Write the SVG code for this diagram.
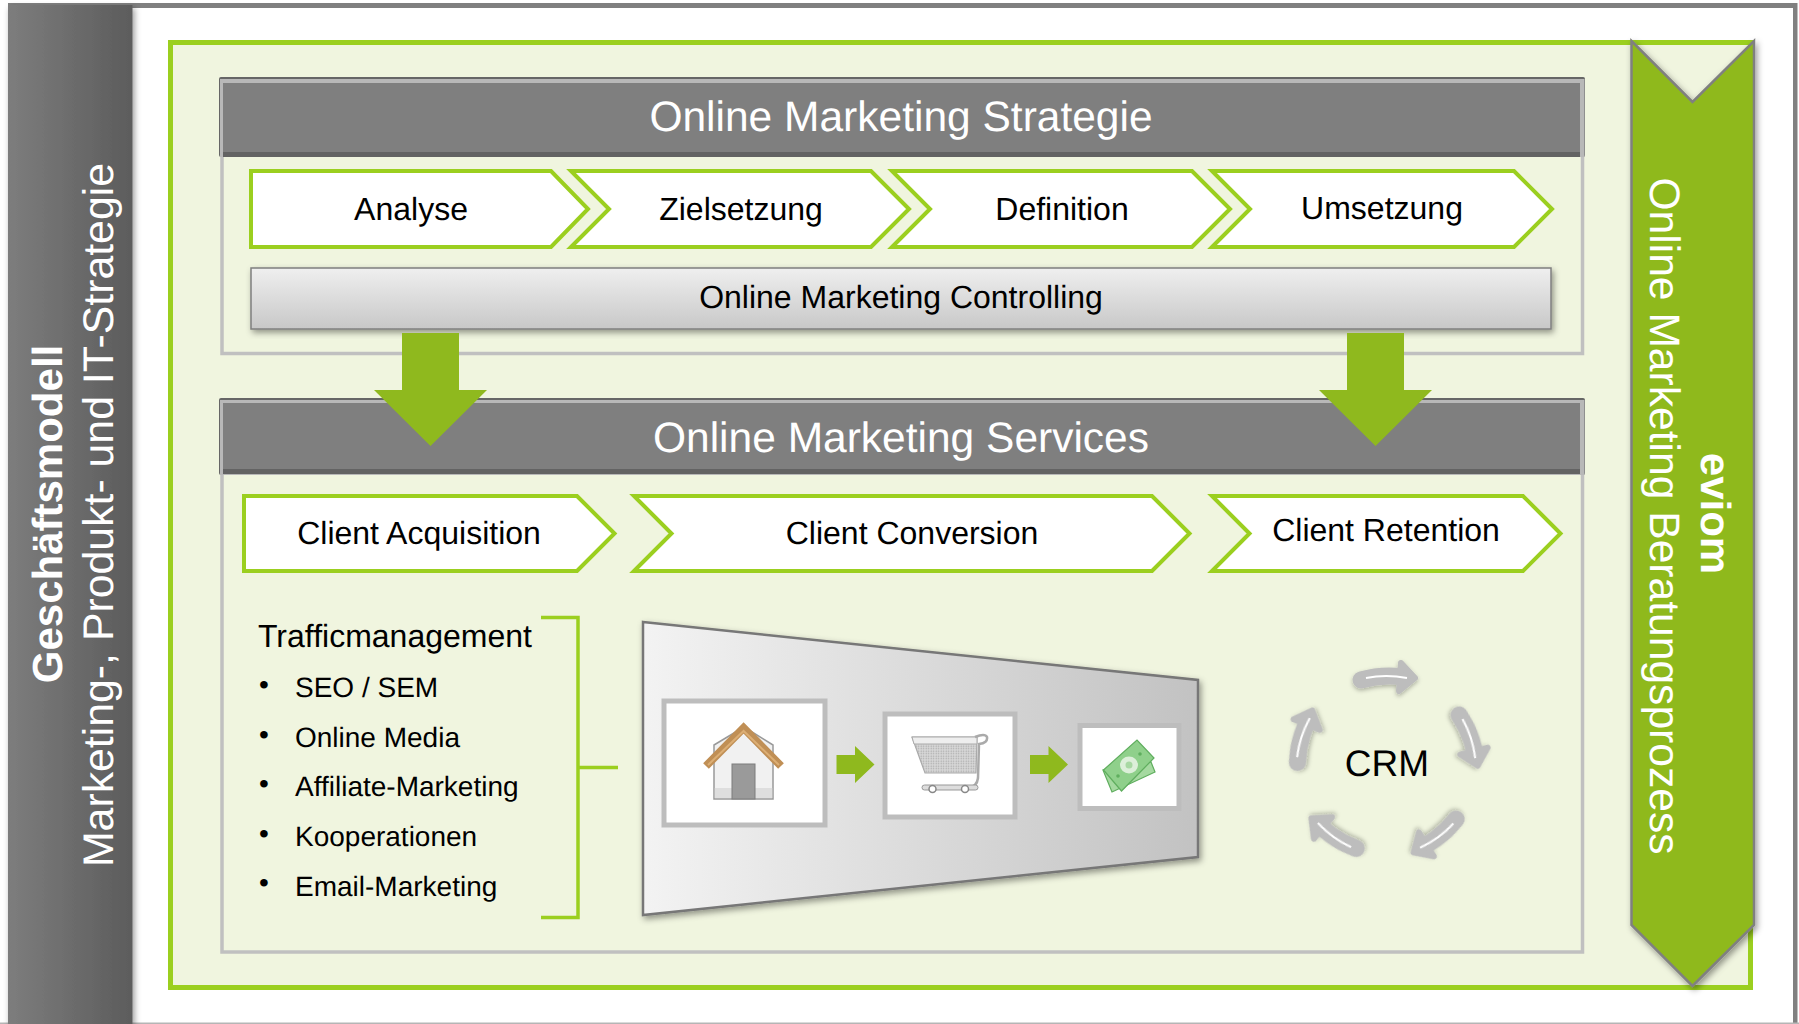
<svg xmlns="http://www.w3.org/2000/svg" xmlns:xlink="http://www.w3.org/1999/xlink" width="1799" height="1024" viewBox="0 0 1799 1024">
<defs>
<linearGradient id="gSide" x1="0" x2="1" y1="0" y2="0"><stop offset="0" stop-color="#7d7d7d"/><stop offset="1" stop-color="#5c5c5c"/></linearGradient>
<linearGradient id="gFun" x1="0" x2="1" y1="0" y2="0"><stop offset="0" stop-color="#f3f3f3"/><stop offset="1" stop-color="#c2c2c2"/></linearGradient>
<linearGradient id="gBar" x1="0" x2="0" y1="0" y2="1"><stop offset="0" stop-color="#efefef"/><stop offset="1" stop-color="#c8c8c8"/></linearGradient>
<pattern id="mesh" width="2.500" height="2.500" patternUnits="userSpaceOnUse"><rect width="2.500" height="2.500" fill="#d8d8d8"/><circle cx="1.200" cy="1.200" r=".7" fill="#a8a8a8"/></pattern>
<filter id="sh" x="-10%" y="-10%" width="125%" height="125%"><feDropShadow dx="2" dy="3" stdDeviation="3" flood-color="#000" flood-opacity=".4"/></filter>
<filter id="shA" x="-30%" y="-30%" width="170%" height="170%"><feDropShadow dx="0" dy="2" stdDeviation="2" flood-color="#000" flood-opacity=".28"/></filter>
<polygon id="bigArrow" points="-28.500,0 28.500,0 28.500,57 56.500,57 0,113 -56.500,57 -28.500,57"/>
<polygon id="smallArrow" points="0,9 18.500,9 18.500,0 38,18.500 18.500,37 18.500,28 0,28"/>
<g id="crmArrow" filter="url(#shA)">
<path d="M-25,-85 Q-4,-91 17,-88" fill="none" stroke="#bdbdbd" stroke-width="17" stroke-linecap="round"/>
<polygon points="15,-102 29,-87 13,-74" fill="#bdbdbd" stroke="#bdbdbd" stroke-width="6" stroke-linejoin="round"/>
<path d="M-20,-87 Q0,-91 21,-87" fill="none" stroke="#fff" stroke-width="1.800"/>
</g>
</defs>
<style>
text{font-family:"Liberation Sans",Arial,sans-serif;fill:#000;text-rendering:geometricPrecision}
.c{text-anchor:middle}
.w{fill:#fff}
.head{font-size:42.500px;fill:#fff;text-anchor:middle}
.lab{font-size:32px;text-anchor:middle}
.li{font-size:28px}
.chev{fill:#fff;stroke:#9bcf1f;stroke-width:4;stroke-linejoin:miter}
.fr{fill:#fff;stroke:#bdbdbd;stroke-width:5}
.grn{fill:#8fb91e}
.panel{fill:none;stroke:#c0c0c0;stroke-width:3.500}
</style>
<rect width="1799" height="1024" fill="#fff"/>
<g id="frame">
<rect x="8" y="3" width="1789" height="5" fill="#808080"/>
<rect x="1793" y="3" width="4.500" height="1021" fill="#808080"/>
<rect x="0" y="1022.500" width="1799" height="1.500" fill="#b5b5b5"/>
<rect x="8" y="5" width="124.500" height="1019" fill="url(#gSide)" filter="url(#sh)"/>
</g>
<g id="sidebar">
<text transform="translate(62,514) rotate(-90)" class="c w" font-size="42" font-weight="700">Geschäftsmodell</text>
<text transform="translate(113,515) rotate(-90)" class="c w" font-size="42.800">Marketing-, Produkt- und IT-Strategie</text>
</g>
<g id="green-frame"><rect x="170.500" y="42.500" width="1580" height="945" fill="#f0f5df" stroke="#9bcf1f" stroke-width="5"/></g>
<g id="strategie">
<rect x="222" y="79" width="1360.500" height="274.500" class="panel"/>
<rect x="219" y="77" width="1366" height="80" rx="2" fill="#666"/>
<rect x="220" y="79" width="1364.500" height="78" fill="#b8b8b8"/>
<rect x="223" y="83" width="1357" height="69" fill="#7f7f7f"/>
<rect x="223" y="152" width="1357" height="5" fill="#636363"/>
<text x="901" y="131" class="head">Online Marketing Strategie</text>
</g>
<g id="analyse"><polygon class="chev" points="251,171 551,171 588,209 551,247 251,247"/><text x="411" y="220" class="lab">Analyse</text></g>
<g id="zielsetzung"><polygon class="chev" points="571,171 871,171 909,209 871,247 571,247 609,209"/><text x="741" y="220" class="lab">Zielsetzung</text></g>
<g id="definition"><polygon class="chev" points="892,171 1192,171 1230,209 1192,247 892,247 930,209"/><text x="1062" y="220" class="lab">Definition</text></g>
<g id="umsetzung"><polygon class="chev" points="1212,171 1514,171 1552,209 1514,247 1212,247 1250,209"/><text x="1382" y="219" class="lab">Umsetzung</text></g>
<g id="controlling"><rect x="251" y="268" width="1300" height="61" fill="url(#gBar)" stroke="#7f7f7f" stroke-width="1.500" filter="url(#sh)"/><text x="901" y="308" class="lab">Online Marketing Controlling</text></g>
<g id="services">
<rect x="222" y="401" width="1360.500" height="551" class="panel"/>
<rect x="219" y="398" width="1366" height="77" rx="2" fill="#666"/>
<rect x="220" y="400" width="1364.500" height="75" fill="#b8b8b8"/>
<rect x="223" y="403" width="1357" height="66" fill="#7f7f7f"/>
<rect x="223" y="469" width="1357" height="5" fill="#636363"/>
<text x="901" y="452" class="head">Online Marketing Services</text>
</g>
<g id="acquisition"><polygon class="chev" points="244,496 577,496 614.500,533.500 577,571 244,571"/><text x="419" y="544" class="lab">Client Acquisition</text></g>
<g id="conversion"><polygon class="chev" points="634,496 1152,496 1189.500,533.500 1152,571 634,571 671.500,533.500"/><text x="912" y="544" class="lab">Client Conversion</text></g>
<g id="retention"><polygon class="chev" points="1212,496 1523,496 1560.500,533.500 1523,571 1212,571 1249.500,533.500"/><text x="1386" y="541" class="lab">Client Retention</text></g>
<g id="traffic">
<path d="M541,617.500H578V917.500H541M578,767.500H618" fill="none" stroke="#9bcf1f" stroke-width="3.500"/>
<text x="258" y="647" font-size="32">Trafficmanagement</text>
<g class="li">
<text x="259" y="694" font-size="28">•</text><text x="295" y="697">SEO / SEM</text>
<text x="259" y="744" font-size="28">•</text><text x="295" y="747">Online Media</text>
<text x="259" y="793" font-size="28">•</text><text x="295" y="796">Affiliate-Marketing</text>
<text x="259" y="843" font-size="28">•</text><text x="295" y="846">Kooperationen</text>
<text x="259" y="892" font-size="28">•</text><text x="295" y="896">Email-Marketing</text>
</g>
</g>
<g id="funnel"><polygon points="643,622 1198,680 1198,857 643,915" fill="url(#gFun)" stroke="#777" stroke-width="2.500" filter="url(#sh)"/></g>
<g id="home">
<rect x="664" y="701" width="161" height="124" class="fr"/>
<path d="M714,745L744,727L773,745V799H714Z" fill="#f1f1f1" stroke="#999" stroke-width="1.500"/>
<rect x="714.800" y="788" width="57.400" height="10" fill="#dedede"/>
<rect x="732" y="764" width="23" height="35" fill="#9a9a9a" stroke="#7d7d7d"/>
<path d="M706,766L743.600,728L781,766" fill="none" stroke="#c08f55" stroke-width="8" stroke-linejoin="miter"/>
<path d="M708,765L743.600,731L779,765" fill="none" stroke="#dcae74" stroke-width="2"/>
</g>
<g id="cart">
<rect x="885" y="714" width="130" height="103" class="fr"/>
<path d="M912,737H977L976,773H925Z" fill="url(#mesh)" stroke="#aaa" stroke-width="1.200"/>
<path d="M912,737H977V744H914Z" fill="#eee" stroke="#aaa"/>
<path d="M975,737Q985,733 987,737Q988,743 979,744L978,778Q977,787 968,788H925" fill="none" stroke="#aaa" stroke-width="2.500"/>
<rect x="922" y="785" width="56" height="5" rx="2.500" fill="#ddd" stroke="#999"/>
<circle cx="932.500" cy="789" r="3.500" fill="#fff" stroke="#888" stroke-width="1.500"/>
<circle cx="965" cy="789" r="3.500" fill="#fff" stroke="#888" stroke-width="1.500"/>
</g>
<g id="money">
<rect x="1080" y="725.500" width="99" height="83" class="fr"/>
<polygon points="1103,770 1112,792 1155,772 1151,762" fill="#a5d9a0" stroke="#5fae5e" stroke-width="1.200"/>
<polygon points="1103.500,770 1137,740 1154,758 1121.500,791" fill="#8fd08b" stroke="#5fae5e" stroke-width="1.200"/>
<ellipse cx="1129" cy="765" rx="9" ry="8.500" fill="#dcefd9"/>
<circle cx="1129" cy="765" r="3.500" fill="#a8d8a3"/>
<circle cx="1140" cy="754" r="1.800" fill="#5fae5e"/>
<circle cx="1118" cy="776" r="1.800" fill="#5fae5e"/>
</g>
<g id="crm">
<use xlink:href="#crmArrow" href="#crmArrow" transform="translate(1386,765)"/>
<use xlink:href="#crmArrow" href="#crmArrow" transform="translate(1386,765) rotate(72)"/>
<use xlink:href="#crmArrow" href="#crmArrow" transform="translate(1386,765) rotate(144)"/>
<use xlink:href="#crmArrow" href="#crmArrow" transform="translate(1386,765) rotate(216)"/>
<use xlink:href="#crmArrow" href="#crmArrow" transform="translate(1386,765) rotate(288)"/>
<text x="1387" y="776" class="c" font-size="37">CRM</text>
</g>
<g id="connectors">
<use xlink:href="#bigArrow" href="#bigArrow" x="430.500" y="333" class="grn"/>
<use xlink:href="#bigArrow" href="#bigArrow" x="1375.500" y="333" class="grn"/>
<use xlink:href="#smallArrow" href="#smallArrow" x="836.500" y="746" class="grn"/>
<use xlink:href="#smallArrow" href="#smallArrow" x="1030" y="746" class="grn"/>
</g>
<g id="ribbon">
<polygon points="1631.500,41 1692.500,102 1754,41 1754,925 1692.500,986 1631.500,925" fill="#8fb91e" stroke="#808080" stroke-width="2.500" stroke-linejoin="miter" filter="url(#sh)"/>
<text transform="translate(1701,513.500) rotate(90)" class="c" font-size="42" font-weight="700" style="fill:#fff">eviom</text>
<text transform="translate(1650,516) rotate(90)" class="c w" font-size="42.600">Online Marketing Beratungsprozess</text>
</g>
</svg>
